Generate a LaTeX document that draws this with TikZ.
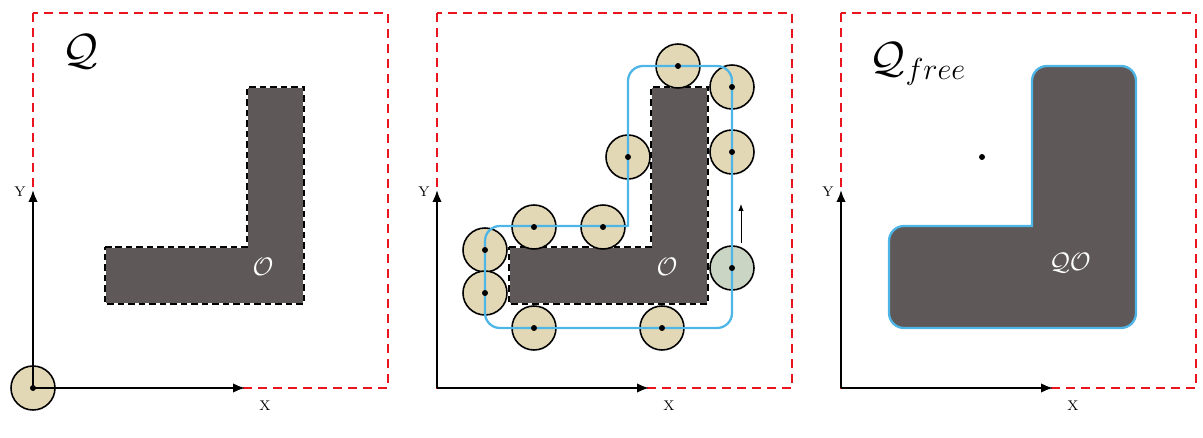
\documentclass[tikz,border=0pt]{standalone}
\usetikzlibrary{arrows.meta}
\definecolor{figred}{HTML}{E8141E}
\definecolor{figgray}{HTML}{5F5858}
\definecolor{figtan}{HTML}{E3D8B6}
\definecolor{figsage}{HTML}{CBD5C3}
\definecolor{figcyan}{HTML}{4DB6E6}

\begin{document}
\begin{tikzpicture}[
  x=0.02cm, y=-0.02cm,
  wall/.style={draw=figred, dash pattern=on 1.9mm off 1.1mm, line width=1.6pt},
  axis/.style={-{Latex[length=2.4mm,width=1.9mm]}, line width=1.1pt},
  move/.style={-{Latex[length=1.4mm,width=1.1mm]}, line width=0.5pt},
  axlab/.style={font=\footnotesize, inner sep=1pt},
  block/.style={fill=figgray},
  blockedge/.style={draw=black, dash pattern=on 1.3mm off 0.8mm, line width=1.1pt},
  robot/.style={circle, draw=black, line width=0.9pt, fill=figtan,
                minimum size=0.88cm, inner sep=0pt},
  probe/.style={robot, fill=figsage},
  hull/.style={draw=figcyan, line width=1.3pt},
  title/.style={font=\fontsize{23}{27}\selectfont, inner sep=0pt},
  olab/.style={font=\Large, text=white, inner sep=0pt}]

  \useasboundingbox (0,0) rectangle (1203,438);

  % ---- frames ------------------------------------------------------------
  \foreach \k/\dx in {1/0, 2/404, 3/808} {
    \begin{scope}[shift={(\dx,0)}]
      \draw[wall] (33,13) rectangle (388,388);
      \coordinate (o\k) at (33,388);
      \coordinate (xt\k) at (245,388);
      \coordinate (yt\k) at (33,190);
      \node[axlab] (xl\k) at (265,406) {X};
      \node[axlab] (yl\k) at (20,192) {Y};
    \end{scope}
  }

  % ---- obstacle O (panels 1 and 2) ---------------------------------------
  \foreach \k/\dx in {1/0, 2/404} {
    \begin{scope}[shift={(\dx,0)}]
      \fill[block] (105,247) -- (247,247) -- (247,87) -- (304,87)
        -- (304,304) -- (105,304) -- cycle;
      \draw[white, line width=1.1pt] (105,247) -- (247,247) -- (247,87)
        -- (304,87) -- (304,304) -- (105,304) -- cycle;
      \draw[blockedge] (105,247) -- (247,247) -- (247,87) -- (304,87)
        -- (304,304) -- (105,304) -- cycle;
      \node[olab] (ob\k) at (263,267) {$\mathcal{O}$};
    \end{scope}
  }

  % ---- panel 1: robot at the origin --------------------------------------
  \node[robot] (r0) at (o1) {};
  \node[title] (qlab) at (80,52) {$\mathcal{Q}$};

  % ---- panel 2: robot sliding round the obstacle -------------------------
  \foreach \n/\cx/\cy in {1/678/66, 2/732/87, 3/732/152, 4/628/157,
                          5/534/227, 6/603/227, 7/485/250, 8/485/293,
                          9/534/328, 10/662/328} {
    \node[robot] (c\n) at (\cx,\cy) {};
  }
  \node[probe] (c11) at (732,268) {};

  \draw[hull, rounded corners=3mm, line cap=round]
    (628,226) -- (628,66) -- (732,66) -- (732,328) -- (485,328)
    -- (485,226) -- (628,226);

  \foreach \n in {1,...,11} { \fill (c\n) circle[radius=1.7pt]; }

  \coordinate (m0) at (741,243);
  \coordinate (m1) at (741,204);
  \draw[move] (m0) -- (m1);

  % ---- panel 3: free space and grown obstacle ----------------------------
  \filldraw[block, hull, rounded corners=3mm]
    (1032,226) -- (1032,66) -- (1136,66) -- (1136,328) -- (889,328)
    -- (889,226) [sharp corners] -- cycle;
  \node[olab] (qo) at (1070,263) {$\mathcal{QO}$};
  \node[title] (qfree) at (918,64) {$\mathcal{Q}_{free}$};
  \coordinate (q0) at (982,157);
  \fill (q0) circle[radius=1.7pt];

  % ---- axes ---------------------------------------------------------------
  \fill (o1) circle[radius=1.7pt];
  \foreach \k in {1,2,3} {
    \draw[axis] (o\k) -- (xt\k);
    \draw[axis] (o\k) -- (yt\k);
  }
\end{tikzpicture}
\end{document}
